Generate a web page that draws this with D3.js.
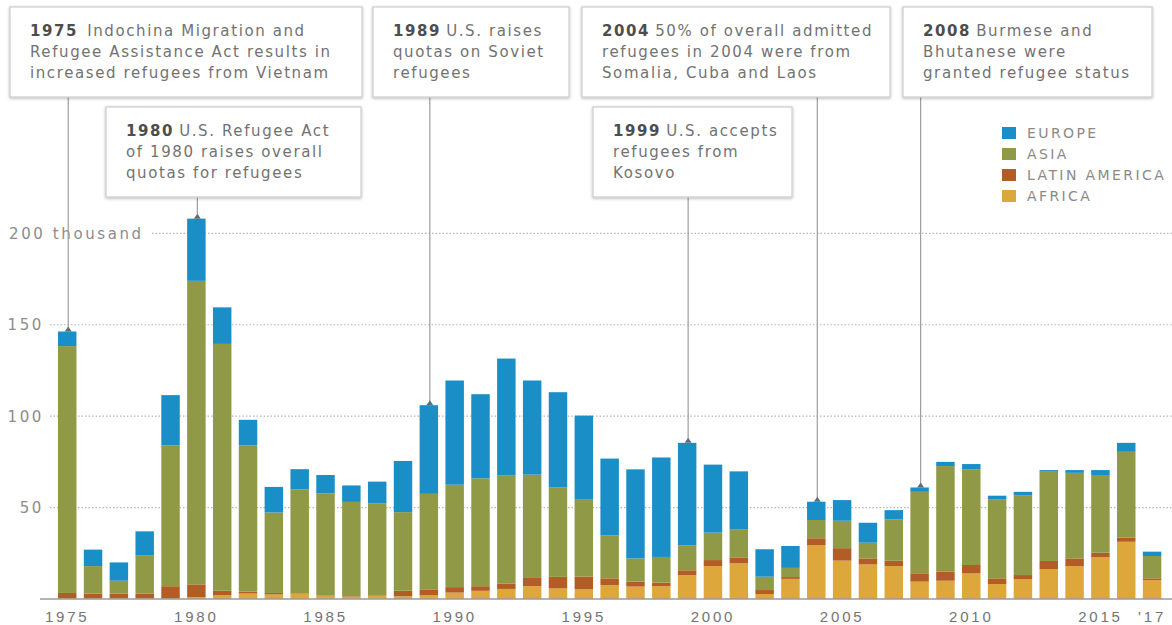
<!DOCTYPE html>
<html>
<head>
<meta charset="utf-8">
<script src="https://cdn.jsdelivr.net/npm/d3@7.9.0/dist/d3.min.js"></script>
<style>
  body { margin: 0; background: #fff; }
  svg { display: block; font-family: 'DejaVu Sans', sans-serif; }
  .note { font-size: 15px; fill: #727272; letter-spacing: 1.6px; }
  .note .yr { font-weight: bold; fill: #4d4d4d; }
  .tick-y { font-size: 15px; fill: #8c8c8c; letter-spacing: 2.6px; }
  .xaxis text { font-size: 15px; fill: #747474; letter-spacing: 2.8px; }
  .legend text { font-size: 14px; fill: #8a8a8a; letter-spacing: 2.4px; }
</style>
</head>
<body>
<div id="chart"></div>
<script>
// refugees admitted, thousands, 1975-2017
const years = d3.range(1975, 2018);

const africa = [0.3, 0.3, 0.3, 0.3, 0.5, 1, 2, 3, 2.5, 2.7,
  1.5, 1.3, 1.9, 1.5, 2, 3.5, 4.5, 5.5, 7, 5.8,
  5.3, 7.5, 6.8, 7, 13, 18, 19.5, 2.7, 11, 29.5,
  21, 18.9, 18, 9.5, 10, 14, 8.2, 10.9, 16.4, 18,
  22.8, 31.3, 10.4];

const latinAmerica = [3, 2.7, 2.7, 2.7, 6.5, 7, 2.5, 1, 0.8, 0.3,
  0.3, 0.3, 0.3, 3, 3, 3, 2.5, 3, 4.5, 6.3,
  7, 3.8, 2.7, 2, 2.7, 3.3, 3, 2.2, 1, 3.7,
  6.8, 3.3, 2.9, 4.2, 4.9, 4.6, 3.1, 2.2, 4.4, 4.2,
  2.5, 2.2, 0.9];

const asia = [135, 15, 7, 21, 77, 166, 135, 80, 44, 57,
  56, 51.5, 50, 43, 52.5, 56, 59, 59, 56.5, 49,
  42, 23.5, 12.7, 14, 13.7, 15, 15.7, 7.3, 5, 10,
  15, 8.6, 22.6, 44.9, 57.8, 52.4, 43.3, 43.7, 48.8, 46.8,
  42.5, 47, 12.2];

const europe = [8, 9, 10, 13, 27.5, 34, 20, 14, 14, 11,
  10, 9, 12, 28, 48.5, 57, 46, 64, 51.5, 52,
  46, 42, 48.7, 54.4, 56, 37.2, 31.6, 15, 12, 10,
  11.3, 10.9, 5.1, 2.4, 2.3, 2.8, 1.9, 1.8, 0.9, 1.5,
  2.7, 4.9, 2.4];

const regions = ['africa', 'latin', 'asia', 'europe'];
const regionNames = { europe: 'EUROPE', asia: 'ASIA', latin: 'LATIN AMERICA', africa: 'AFRICA' };
const colors = { europe: '#1a8ec6', asia: '#909a46', latin: '#b25c26', africa: '#dea73b' };

const yTicks = [50, 100, 150, 200];
const xTickYears = [1975, 1980, 1985, 1990, 1995, 2000, 2005, 2010, 2015, 2017];
const xTickLabels = ['1975', '1980', '1985', '1990', '1995', '2000', '2005', '2010', '2015', "'17"];

const notes = [
  { year: 1975, lines: ['Indochina Migration and', 'Refugee Assistance Act results in', 'increased refugees from Vietnam'] },
  { year: 1980, lines: ['U.S. Refugee Act', 'of 1980 raises overall', 'quotas for refugees'] },
  { year: 1989, lines: ['U.S. raises', 'quotas on Soviet', 'refugees'] },
  { year: 1999, lines: ['U.S. accepts', 'refugees from', 'Kosovo'] },
  { year: 2004, lines: ['50% of overall admitted', 'refugees in 2004 were from', 'Somalia, Cuba and Laos'] },
  { year: 2008, lines: ['Burmese and', 'Bhutanese were', 'granted refugee status'] },
];

// box layout for each note: left, top, width
const noteBoxes = {
  1975: [10, 7, 352],
  1980: [106, 107, 255],
  1989: [373, 7, 196],
  1999: [593, 107, 199],
  2004: [582, 7, 308],
  2008: [903, 7, 249],
};

const rows = years.map((year, i) => ({
  year,
  africa: africa[i],
  latin: latinAmerica[i],
  asia: asia[i],
  europe: europe[i],
}));

const width = 1172;
const height = 625;

const svg = d3.select('#chart')
  .append('svg')
  .attr('width', width)
  .attr('height', height);

const defs = svg.append('defs');
const shadow = defs.append('filter').attr('id', 'shadow')
  .attr('x', '-5%').attr('y', '-10%').attr('width', '110%').attr('height', '125%');
shadow.append('feDropShadow')
  .attr('dx', 0).attr('dy', 1).attr('stdDeviation', 1.6)
  .attr('flood-color', '#000').attr('flood-opacity', 0.28);

const xScale = d3.scaleBand()
  .domain(years)
  .range([54.3, 1165])
  .paddingInner(0.285)
  .paddingOuter(0.1425);

const yScale = d3.scaleLinear().domain([0, 200]).range([599, 233.3]);

// gridlines
const grid = svg.append('g').attr('class', 'grid');
yTicks.forEach((t) => {
  const label = t === 200 ? '200 thousand' : String(t);
  grid.append('line')
    .attr('x1', t === 200 ? 152 : 50)
    .attr('x2', width)
    .attr('y1', yScale(t))
    .attr('y2', yScale(t))
    .attr('stroke', '#b5b5b5')
    .attr('stroke-width', 1.2)
    .attr('stroke-dasharray', '1.5,2');
  grid.append('text')
    .attr('class', 'tick-y')
    .attr('x', t === 200 ? 9 : 44)
    .attr('y', yScale(t))
    .attr('dy', '0.36em')
    .attr('text-anchor', t === 200 ? 'start' : 'end')
    .text(label);
});

// stacked bars
const series = d3.stack().keys(regions)(rows);

svg.append('g')
  .selectAll('g')
  .data(series)
  .join('g')
  .attr('fill', (d) => colors[d.key])
  .selectAll('rect')
  .data((d) => d)
  .join('rect')
  .attr('x', (d) => xScale(d.data.year))
  .attr('y', (d) => yScale(d[1]))
  .attr('width', xScale.bandwidth())
  .attr('height', (d) => yScale(d[0]) - yScale(d[1]));

// baseline
svg.append('line')
  .attr('x1', 40).attr('x2', width)
  .attr('y1', yScale(0)).attr('y2', yScale(0))
  .attr('stroke', '#9a9a9a')
  .attr('stroke-width', 1.5);

// x axis labels
const xAxis = d3.axisBottom(xScale)
  .tickValues(xTickYears)
  .tickFormat((d) => xTickLabels[xTickYears.indexOf(d)])
  .tickSize(0)
  .tickPadding(12);

svg.append('g')
  .attr('class', 'xaxis')
  .attr('transform', `translate(0, ${yScale(0)})`)
  .call(xAxis)
  .call((g) => g.select('.domain').remove())
  .selectAll('text')
  .attr('font-family', null)
  .attr('font-size', null)
  .attr('fill', null);

// annotations
const totals = new Map(rows.map((d) => [d.year, d.africa + d.latin + d.asia + d.europe]));

const noteG = svg.append('g').attr('class', 'notes');

notes.forEach((n) => {
  const [bx, by, bw] = noteBoxes[n.year];
  const bh = 90;
  const cx = xScale(n.year) + xScale.bandwidth() / 2 + 1;
  const topY = yScale(totals.get(n.year));

  noteG.append('line')
    .attr('x1', cx).attr('x2', cx)
    .attr('y1', by + bh).attr('y2', topY - 3)
    .attr('stroke', '#9d9d9d')
    .attr('stroke-width', 1.2);

  noteG.append('path')
    .attr('d', `M${cx - 3.5},${topY} L${cx},${topY - 5} L${cx + 3.5},${topY} Z`)
    .attr('fill', '#5a6f7d');

  noteG.append('rect')
    .attr('x', bx).attr('y', by)
    .attr('width', bw).attr('height', bh)
    .attr('fill', '#fff')
    .attr('stroke', '#cfcfcf')
    .attr('stroke-width', 1.3)
    .attr('filter', 'url(#shadow)');

  const text = noteG.append('text')
    .attr('class', 'note')
    .attr('x', bx + 20)
    .attr('y', by + 29);

  n.lines.forEach((line, i) => {
    if (i === 0) {
      text.append('tspan').attr('class', 'yr').text(n.year);
      text.append('tspan').attr('dx', n.year === 1975 ? 9 : 5).text(line);
    } else {
      text.append('tspan')
        .attr('x', bx + 20)
        .attr('dy', 21)
        .text(line);
    }
  });
});

// legend
const legendKeys = ['europe', 'asia', 'latin', 'africa'];
const legend = svg.append('g')
  .attr('class', 'legend')
  .attr('transform', 'translate(1002, 133)');

const item = legend.selectAll('g')
  .data(legendKeys)
  .join('g')
  .attr('transform', (d, i) => `translate(0, ${i * 21})`);

item.append('rect')
  .attr('x', 0).attr('y', -6)
  .attr('width', 14).attr('height', 12)
  .attr('fill', (d) => colors[d]);

item.append('text')
  .attr('x', 25)
  .attr('y', 0)
  .attr('dy', '0.36em')
  .text((d) => regionNames[d]);
</script>
</body>
</html>
